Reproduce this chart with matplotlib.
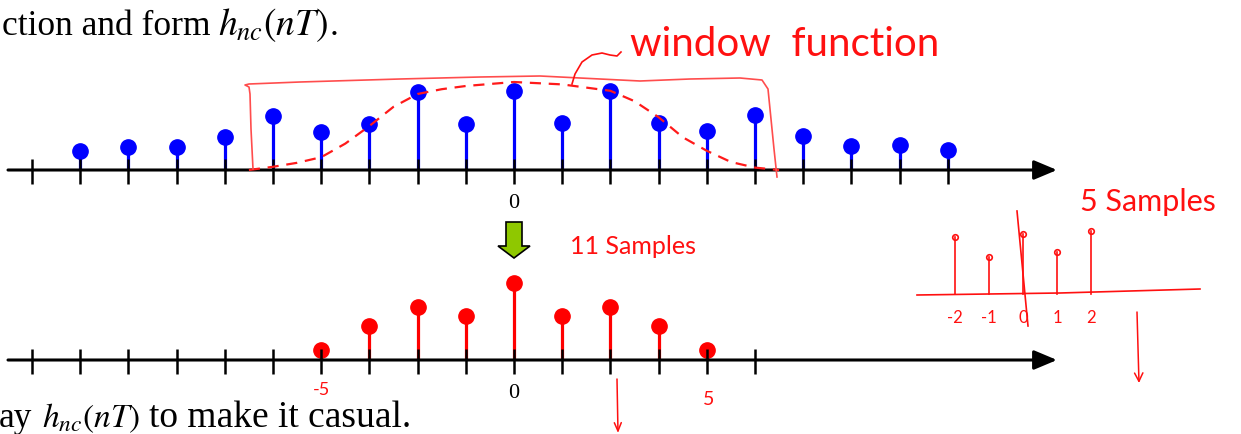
import numpy as np
import matplotlib.pyplot as plt
from matplotlib.patches import Polygon

plt.rcParams['mathtext.fontset'] = 'stix'

W, H = 1241, 435
X0, DX = 514, 48.2          # pixel of n = 0 and pixels per sample
UNIT = 80                   # pixels per unit of amplitude
TOP_BASE, BOT_BASE = 171, 361

# ideal (non-causal) impulse response, n = -9..9
n_full = np.arange(-9, 10)
h_full = [0.24, 0.29, 0.29, 0.41, 0.68, 0.48, 0.58, 0.98, 0.58, 0.99,
          0.59, 0.99, 0.59, 0.49, 0.69, 0.43, 0.30, 0.31, 0.25]

# after the window
n_win = np.arange(-4, 5)
h_win = [0.13, 0.43, 0.66, 0.55, 0.96, 0.55, 0.66, 0.43, 0.13]

top_ticks = np.arange(-10, 10)
bot_ticks = np.arange(-10, 6)

# window shape (dashed)
win_n = [-5.5, -5, -4.5, -4, -3.5, -3, -2.5, -2, -1.5, -1, 0, 1,
         2, 2.5, 3, 3.5, 4, 4.5, 5, 5.5]
win_h = [0, 0.04, 0.09, 0.16, 0.33, 0.55, 0.79, 0.95, 1.01, 1.05, 1.10, 1.07,
         0.99, 0.86, 0.66, 0.41, 0.24, 0.10, 0.03, 0]

# small 5-sample sketch on the right
sk_n = [-2, -1, 0, 1, 2]
sk_h = [57, 37, 60, 42, 63]
sk_lab = ['-2', '-1', '0', '1', '2']

RED = '#ff1a1a'
PEN = '#ff1010'
HAND = {'family': 'Lato', 'color': PEN}
SERIF = {'family': 'Liberation Serif', 'va': 'baseline'}

fig = plt.figure(figsize=(W / 100, H / 100), dpi=100)
xlim = (-X0 / DX, (W - X0) / DX)


def row_axes(base):
    ax = fig.add_axes([0, 0, 1, 1])
    ax.set_xlim(*xlim)
    ax.set_ylim(-(H - base) / UNIT, base / UNIT)
    ax.axis('off')
    ax.patch.set_alpha(0)
    return ax


def sequence(ax, n, h, ticks, color):
    ax.vlines(n, 0, h, color=color, lw=2.3, zorder=2)
    ax.plot(n, h, 'o', color=color, ms=11, zorder=3)
    ax.vlines(ticks, -14 / UNIT, 11 / UNIT, color='k', lw=1.8, zorder=4)
    ax.annotate('', xy=((1057 - X0) / DX, 0), xytext=((8 - X0) / DX, 0),
                arrowprops=dict(arrowstyle='-|>,head_length=1.0,head_width=0.42',
                                mutation_scale=14, lw=2.2, color='k',
                                shrinkA=0, shrinkB=0), zorder=4)
    ax.text(0, -23 / UNIT, '0', ha='center', va='top', fontsize=16,
            family='Liberation Serif')


ax_top = row_axes(TOP_BASE)
sequence(ax_top, n_full, h_full, top_ticks, '#0000ff')
ax_top.plot(win_n, win_h, color=RED, lw=1.6, ls=(0, (5, 3.5)), zorder=5)

ax_bot = row_axes(BOT_BASE)
sequence(ax_bot, n_win, h_win, bot_ticks, '#ff0000')

# freehand notes, in pixel coordinates
ink = fig.add_axes([0, 0, 1, 1])
ink.set_xlim(0, W)
ink.set_ylim(H, 0)
ink.axis('off')
ink.patch.set_alpha(0)

rect_x = [253, 251, 250, 249, 245, 249, 300, 400, 480, 540, 600, 640, 690, 740, 762, 768, 771, 774, 777]
rect_y = [170, 130, 95, 88, 86, 85, 83, 80, 78, 77, 80, 82, 80, 79, 81, 90, 120, 150, 178]
ink.plot(rect_x, rect_y, color='#ff4d4d', lw=1.2, zorder=6)

hook_x = [572, 575, 582, 592, 602, 610, 617, 621]
hook_y = [85, 75, 63, 56, 54, 56, 57, 53]
ink.plot(hook_x, hook_y, color=PEN, lw=1.2, zorder=6)
ink.text(630, 44, 'window  function', fontsize=29, va='center', ha='left', **HAND)

ink.add_patch(Polygon([(506, 223), (522, 223), (522, 247), (530, 247),
                       (514, 259), (498, 247), (506, 247)],
                      closed=True, facecolor='#8fc800', edgecolor='k', lw=1.2))

ink.text(633, 247, '11 Samples', fontsize=18, ha='center', va='center', **HAND)
ink.text(322, 390, '-5', fontsize=13, ha='center', va='center', **HAND)
ink.text(709, 400, '5', fontsize=14, ha='center', va='center', **HAND)
ink.annotate('', xy=(618, 434), xytext=(617, 380),
             arrowprops=dict(arrowstyle='->,head_length=0.6,head_width=0.25',
                             color=PEN, lw=1.1, shrinkA=0, shrinkB=0))

# sketch of the 5-sample version
sk_x0, sk_dx, sk_base = 1023, 34, 295
ink.plot([917, 1060, 1200], [296, 294, 290], color=PEN, lw=1.2)
ink.plot([1017, 1028], [212, 327], color=PEN, lw=1.2)
for k, hgt, lab in zip(sk_n, sk_h, sk_lab):
    x = sk_x0 + sk_dx * k
    ink.plot([x, x], [sk_base, sk_base - hgt], color=PEN, lw=1.2)
    ink.plot(x, sk_base - hgt, 'o', ms=4, mfc='none', mec=PEN, mew=1.2)
    ink.text(x, 318, lab, fontsize=12, ha='center', va='center', **HAND)
ink.text(1080, 202, '5 Samples', fontsize=22, ha='left', va='center', **HAND)
ink.annotate('', xy=(1139, 384), xytext=(1137, 313),
             arrowprops=dict(arrowstyle='->,head_length=0.6,head_width=0.3',
                             color=PEN, lw=1.1, shrinkA=0, shrinkB=0))

# slide text
ink.text(2, 35, 'ction and form', fontsize=25.5, **SERIF)
ink.text(218, 35, '$h_{nc}(nT)$', fontsize=27, **SERIF)
ink.text(330, 35, '.', fontsize=25.5, **SERIF)
ink.text(-1, 427, 'ay', fontsize=25.5, **SERIF)
ink.text(42, 427, '$h_{nc}(nT)$', fontsize=24, **SERIF)
ink.text(149, 427, 'to make it casual.', fontsize=27, **SERIF)

fig.savefig('out.png', dpi=100)
